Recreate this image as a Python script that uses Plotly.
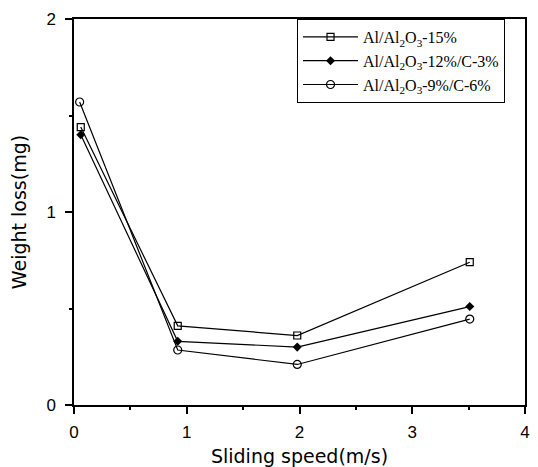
import plotly.graph_objects as go

speed_15 = [0.06, 0.92, 1.98, 3.51]
loss_15 = [1.44, 0.41, 0.36, 0.74]
speed_12 = [0.06, 0.92, 1.98, 3.51]
loss_12 = [1.40, 0.33, 0.30, 0.51]
speed_9 = [0.05, 0.92, 1.98, 3.51]
loss_9 = [1.57, 0.285, 0.21, 0.445]

names = ["Al/Al<sub>2</sub>O<sub>3</sub>-15%",
         "Al/Al<sub>2</sub>O<sub>3</sub>-12%/C-3%",
         "Al/Al<sub>2</sub>O<sub>3</sub>-9%/C-6%"]

fig = go.Figure()
fig.add_trace(go.Scatter(x=speed_15, y=loss_15, mode="lines+markers", name=names[0],
                         line=dict(color="black", width=1.2),
                         marker=dict(symbol="square-open", size=7, color="black", line=dict(width=1.2))))
fig.add_trace(go.Scatter(x=speed_12, y=loss_12, mode="lines+markers", name=names[1],
                         line=dict(color="black", width=1.2),
                         marker=dict(symbol="diamond", size=7, color="black")))
fig.add_trace(go.Scatter(x=speed_9, y=loss_9, mode="lines+markers", name=names[2],
                         line=dict(color="black", width=1.2),
                         marker=dict(symbol="circle-open", size=8, color="black", line=dict(width=1.2))))

axis_common = dict(showline=True, linecolor="black", linewidth=1.5, mirror=True,
                   showgrid=False, zeroline=False, ticks="outside", ticklen=7, tickwidth=1.5,
                   tickcolor="black", automargin=False,
                   tickfont=dict(family="Liberation Sans", size=17, color="black"))
title_font = dict(family="DejaVu Sans", size=19, color="black")

fig.update_xaxes(range=[0, 4], tickvals=[0, 1, 2, 3, 4], ticktext=["0", "1", "2", "3", "4"],
                 title=dict(text="Sliding speed(m/s)", font=title_font),
                 minor=dict(tickvals=[0.5, 1.5, 2.5, 3.5], ticks="outside", ticklen=3, tickcolor="black"),
                 ticklabelstandoff=4,
                 **axis_common)
fig.update_yaxes(range=[0, 2], tickvals=[0, 1, 2], ticktext=["0", "1", "2"],
                 title=dict(text="Weight loss(mg)", font=title_font),
                 minor=dict(tickvals=[0.5, 1.5], ticks="outside", ticklen=3, tickcolor="black"),
                 ticklabelstandoff=6,
                 **axis_common)

# the page body has an 8px margin, so the figure is sized and offset to compensate
fig.update_layout(
    width=530, height=459,
    margin=dict(l=66, r=13, t=11, b=62),
    plot_bgcolor="white", paper_bgcolor="white",
    legend=dict(x=0.4945, y=1.0, xanchor="left", yanchor="top",
                bgcolor="white", bordercolor="black", borderwidth=1,
                font=dict(family="Liberation Serif", size=16, color="black"),
                tracegroupgap=0, itemwidth=55),
)

fig.write_html("out.html")
